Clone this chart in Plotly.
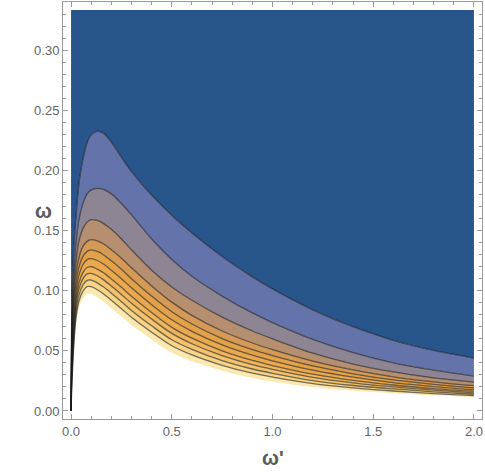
import plotly.graph_objects as go

wp = [0, 0.003, 0.008, 0.015, 0.025, 0.04, 0.06, 0.08, 0.1, 0.13, 0.16, 0.2,
      0.25, 0.3, 0.4, 0.5, 0.6, 0.75, 0.9, 1.0, 1.2, 1.4, 1.6, 1.8, 2.0]

# contour lines (omega), top one first
c1 = [0, 0.08, 0.115, 0.140, 0.163, 0.190, 0.210, 0.223, 0.2295, 0.2325, 0.231, 0.2235,
      0.211, 0.199, 0.1795, 0.1627, 0.1479, 0.1284, 0.1115, 0.1015, 0.0841, 0.0701, 0.0587, 0.0503, 0.0439]
c2 = [0, 0.064, 0.094, 0.118, 0.140, 0.160, 0.173, 0.1805, 0.1838, 0.185, 0.1842, 0.1805,
      0.1725, 0.163, 0.143, 0.126, 0.112, 0.0955, 0.0815, 0.0735, 0.0595, 0.0485, 0.040, 0.034, 0.029]
c3 = [0, 0.055, 0.085, 0.106, 0.125, 0.142, 0.152, 0.157, 0.159, 0.1585, 0.156, 0.151,
      0.143, 0.134, 0.117, 0.103, 0.092, 0.078, 0.0665, 0.060, 0.048, 0.039, 0.0325, 0.0275, 0.024]
c4 = [0, 0.05, 0.077, 0.097, 0.114, 0.128, 0.137, 0.141, 0.1425, 0.1415, 0.139, 0.134,
      0.127, 0.119, 0.104, 0.0905, 0.0795, 0.0665, 0.0565, 0.051, 0.0415, 0.0342, 0.0284, 0.0242, 0.021]
c5 = [0, 0.0428, 0.0681, 0.0885, 0.106, 0.12, 0.1288, 0.1327, 0.1339, 0.1326, 0.1299, 0.1248,
      0.1178, 0.110, 0.0955, 0.0825, 0.0723, 0.0602, 0.051, 0.046, 0.0374, 0.0309, 0.0258, 0.0221, 0.0192]
c6 = [0, 0.0367, 0.0606, 0.0813, 0.0993, 0.1133, 0.122, 0.1258, 0.1266, 0.1251, 0.1222, 0.117,
      0.110, 0.1024, 0.0884, 0.0758, 0.0662, 0.055, 0.0464, 0.0417, 0.0339, 0.0281, 0.0236, 0.0203, 0.0177]
c7 = [0, 0.031, 0.0535, 0.0745, 0.093, 0.107, 0.1155, 0.1193, 0.1199, 0.118, 0.115, 0.1098,
      0.1028, 0.0953, 0.0818, 0.0695, 0.0605, 0.05, 0.042, 0.0378, 0.0307, 0.0255, 0.0216, 0.0186, 0.0163]
c8 = [0, 0.0264, 0.0479, 0.0691, 0.088, 0.102, 0.1103, 0.114, 0.1144, 0.1124, 0.1092, 0.1039,
      0.0969, 0.0896, 0.0764, 0.0645, 0.0559, 0.046, 0.0385, 0.0346, 0.028, 0.0234, 0.02, 0.0173, 0.0151]
c9 = [0, 0.0217, 0.042, 0.0635, 0.0827, 0.0967, 0.105, 0.1086, 0.1088, 0.1065, 0.1032, 0.0979,
      0.0909, 0.0836, 0.0708, 0.0592, 0.0512, 0.0419, 0.0349, 0.0313, 0.0253, 0.0212, 0.0183, 0.0159, 0.0139]
c10 = [0, 0.0171, 0.0363, 0.0581, 0.0777, 0.0917, 0.0998, 0.1034, 0.1033, 0.1008, 0.0975, 0.092,
       0.085, 0.0779, 0.0655, 0.0542, 0.0466, 0.038, 0.0314, 0.0281, 0.0227, 0.0192, 0.0166, 0.0145, 0.0128]
# lower limit of the coloured region (white below it)
edge = [0, 0.012, 0.03, 0.052, 0.072, 0.086, 0.094, 0.0975, 0.0972, 0.0945, 0.091, 0.0855,
        0.0785, 0.0715, 0.0595, 0.0485, 0.0415, 0.0335, 0.0275, 0.0245, 0.0198, 0.0168, 0.0148, 0.013, 0.0115]

w_top = 1 / 3
x_ticks = [0.0, 0.5, 1.0, 1.5, 2.0]
y_ticks = [0.00, 0.05, 0.10, 0.15, 0.20, 0.25, 0.30]

lines = [c1, c2, c3, c4, c5, c6, c7, c8, c9, c10]
band_colors = ['#28558c', '#6474ab', '#8d8494', '#b58f6f', '#d59a55', '#e3a14a',
               '#eaa94e', '#efb55c', '#f3c36e', '#f7d486', '#fbe8b0']

fig = go.Figure()

# top boundary of the plotted region
fig.add_trace(go.Scatter(x=[0, 2], y=[w_top, w_top], mode='lines',
                         line=dict(width=0), showlegend=False, hoverinfo='skip'))
# filled bands between contours
for curve, col in zip(lines + [edge], band_colors):
    fig.add_trace(go.Scatter(x=wp, y=curve, mode='lines', fill='tonexty', fillcolor=col,
                             line=dict(width=0, shape='spline', smoothing=0.9),
                             showlegend=False, hoverinfo='skip'))
# contour lines on top
for curve in lines:
    fig.add_trace(go.Scatter(x=wp, y=curve, mode='lines',
                             line=dict(color='rgba(25,25,25,0.6)', width=1.3,
                                       shape='spline', smoothing=0.9),
                             showlegend=False, hoverinfo='skip'))

axis_style = dict(showline=True, linecolor='#9a9a9a', linewidth=1, mirror='ticks',
                  ticks='inside', ticklen=5, tickcolor='#9a9a9a', showgrid=False,
                  zeroline=False, tickfont=dict(family='Liberation Sans', size=13, color='#666666'))

fig.update_layout(
    width=485, height=476,
    margin=dict(l=63, r=3, t=2, b=57),
    plot_bgcolor='white', paper_bgcolor='white',
    xaxis=dict(range=[-0.04, 2.04], tickvals=x_ticks, tickformat='.1f',
               minor=dict(dtick=0.1, tick0=0, ticks='inside', ticklen=3, tickcolor='#9a9a9a'),
               **axis_style),
    yaxis=dict(range=[-0.00667, 0.34], tickvals=y_ticks, tickformat='.2f',
               minor=dict(dtick=0.01, tick0=0, ticks='inside', ticklen=3, tickcolor='#9a9a9a'),
               **axis_style),
    annotations=[
        dict(text="<b>ω'</b>", x=0.5, y=-0.124, xref='paper', yref='paper', showarrow=False,
             font=dict(family='Liberation Sans', size=20, color='#5a5a5a')),
        dict(text='<b>ω</b>', x=-0.071, y=0.5, xref='paper', yref='paper', showarrow=False,
             font=dict(family='Liberation Sans', size=20, color='#5a5a5a')),
    ],
)

# drop the page's default body margin so the figure sits at the window corner
fig.write_html("out.html", config={'displayModeBar': False},
               post_script="document.body.style.margin='0';")
